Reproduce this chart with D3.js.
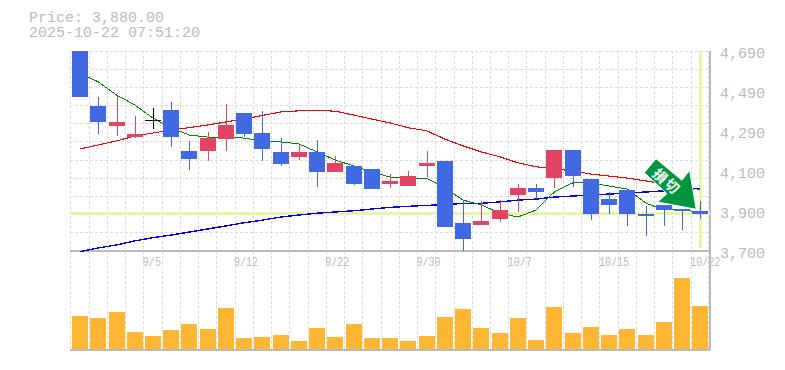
<!DOCTYPE html>
<html>
<head>
<meta charset="utf-8">
<script src="https://cdn.jsdelivr.net/npm/d3@7/dist/d3.min.js"></script>
<style>
html, body { margin: 0; padding: 0; background: #fff; overflow: hidden; }
text { font-family: "Liberation Mono", monospace; fill: #bbb; }
</style>
</head>
<body>
<div id="viz"></div>
<script>
const dates = ["9/1","9/2","9/3","9/4","9/5","9/8","9/9","9/10","9/11","9/12","9/16","9/17","9/18","9/19","9/22","9/24","9/25","9/26","9/29","9/30","10/1","10/2","10/3","10/6","10/7","10/8","10/9","10/10","10/14","10/15","10/16","10/17","10/20","10/21","10/22"]
const opens = [4690,4418,4319,4264,4348,4398,4195,4195,4254,4383,4284,4190,4165,4190,4091,4121,4106,4032,4022,4121,4146,3839,3829,3858,3977,4012,4061,4200,4056,3957,4002,3883,3928,3908,3898]
const highs = [4690,4462,4467,4368,4408,4438,4245,4289,4428,4383,4393,4259,4225,4249,4170,4121,4106,4081,4096,4195,4146,3952,3948,3952,4032,4032,4200,4200,4056,3992,4007,3923,3928,3908,3948]
const lows = [4464,4279,4269,4259,4304,4215,4101,4146,4195,4264,4146,4121,4150,4017,4091,4027,4007,4012,4022,4066,3819,3700,3829,3844,3893,3957,4012,4017,3853,3883,3824,3774,3824,3804,3858]
const closes = [4464,4339,4339,4279,4348,4264,4155,4259,4324,4279,4205,4131,4190,4091,4136,4032,4007,4047,4071,4136,3819,3759,3849,3903,4012,3992,4200,4071,3883,3928,3883,3873,3903,3898,3883]
const volumes = [33,31,37,17,13,19,25,20,41,11,12,14,8,21,12,25,11,11,8,13,32,40,21,16,31,9,42,16,22,14,20,14,27,71,43]
const maShort = [4581,4537,4472,4423,4358,4309,4274,4264,4264,4259,4245,4240,4230,4190,4150,4121,4091,4066,4061,4061,4012,3952,3928,3888,3868,3903,3992,4037,4037,4022,4007,3938,3903,3903,3893]
const maMid = [4205,4225,4245,4269,4284,4299,4311,4324,4339,4353,4371,4388,4394,4396,4392,4373,4353,4334,4310,4295,4254,4220,4190,4167,4137,4117,4106,4097,4081,4071,4061,4047,4032,4022,4004]
const maLong = [3697,3715,3730,3750,3766,3779,3794,3809,3824,3840,3853,3868,3878,3887,3893,3899,3908,3916,3921,3926,3929,3936,3936,3943,3952,3957,3967,3972,3977,3982,3986,3992,3998,4004,4010]
const priceTicks = [3700,3898,4096,4294,4492,4690]
const gridPrices = [3700,3790,3880,3970,4060,4150,4240,4330,4420,4510,4600,4690]
const dateTicks = ["9/5","9/12","9/22","9/30","10/7","10/15","10/22"]
const lastPrice = 3880
const priceText = "Price: 3,880.00"
const timeText = "2025-10-22 07:51:20"

const svgWidth = 785, svgHeight = 370
const left = 70.9, right = 709.4, priceTop = 51, priceBottom = 251, volBottom = 348.5

const svg = d3.select("#viz").append("svg")
    .attr("width", svgWidth)
    .attr("height", svgHeight)
    .style("display", "block")

const x = d3.scaleBand().domain(dates).range([left, right]).padding(0)
const y = d3.scaleLinear().domain([3700, 4690]).range([priceBottom, priceTop])
const yVol = d3.scaleLinear().domain([0, 100]).range([volBottom, volBottom - 100])
const mid = d => x(d) + x.bandwidth() / 2

const gridColor = "#ddd"
const axisColor = "#bbb"
const upColor = "#e24466"
const downColor = "#4169e1"
const lastColor = "#e6f5a8"

// dashed grid
const grid = svg.append("g").attr("shape-rendering", "crispEdges")
grid.selectAll(".h").data(gridPrices).enter().append("line")
    .attr("x1", 70).attr("x2", 710)
    .attr("y1", d => y(d)).attr("y2", d => y(d))
    .attr("stroke", gridColor).attr("stroke-dasharray", "3,2")
grid.selectAll(".v").data(dates).enter().append("line")
    .attr("x1", d => x(d)).attr("x2", d => x(d))
    .attr("y1", priceTop).attr("y2", 350)
    .attr("stroke", gridColor).attr("stroke-dasharray", "3,2")
grid.append("line")
    .attr("x1", right - 1).attr("x2", right - 1)
    .attr("y1", priceTop).attr("y2", 350)
    .attr("stroke", gridColor).attr("stroke-dasharray", "3,2")

// frame
const frame = svg.append("g").attr("shape-rendering", "crispEdges")
    .attr("stroke", axisColor).attr("stroke-width", 1.5)
frame.append("line").attr("x1", 70).attr("x2", 710).attr("y1", priceBottom).attr("y2", priceBottom)
frame.append("line").attr("x1", 70).attr("x2", 710).attr("y1", 350).attr("y2", 350)
frame.append("line").attr("x1", 710).attr("x2", 710).attr("y1", priceTop).attr("y2", 350)

// last price and last day highlight
svg.append("rect")
    .attr("x", 70).attr("width", 640)
    .attr("y", y(lastPrice) - 2.6).attr("height", 3)
    .attr("fill", lastColor).attr("shape-rendering", "crispEdges")
svg.append("rect")
    .attr("x", mid("10/22") - 1).attr("width", 3)
    .attr("y", priceTop).attr("height", 197)
    .attr("fill", lastColor).attr("shape-rendering", "crispEdges")

// moving averages
const maLine = d3.line().x((d, i) => mid(dates[i])).y(d => y(d))
const maSeries = [[maMid, "#f00", 1.1], [maLong, "#00f", 1.4], [maShort, "#080", 1]]
svg.selectAll(".ma").data(maSeries).enter().append("path")
    .attr("d", d => maLine(d[0]))
    .attr("fill", "none")
    .attr("stroke", d => d[1])
    .attr("stroke-width", d => d[2])
    .attr("shape-rendering", "crispEdges")

// candles
const candles = svg.append("g").attr("shape-rendering", "crispEdges")
const candleColor = i => closes[i] > opens[i] ? upColor : closes[i] < opens[i] ? downColor : "#000"
dates.forEach((d, i) => {
    candles.append("line")
        .attr("x1", Math.round(mid(d))).attr("x2", Math.round(mid(d)))
        .attr("y1", y(highs[i])).attr("y2", y(lows[i]))
        .attr("stroke", candleColor(i))
    if (opens[i] == closes[i]) {
        candles.append("line")
            .attr("x1", mid(d) - 8).attr("x2", mid(d) + 8)
            .attr("y1", y(opens[i])).attr("y2", y(opens[i]))
            .attr("stroke", candleColor(i))
    } else {
        const top = y(Math.max(opens[i], closes[i]))
        const bottom = y(Math.min(opens[i], closes[i]))
        candles.append("rect")
            .attr("x", mid(d) - 8).attr("width", 16)
            .attr("y", top).attr("height", bottom - top)
            .attr("fill", candleColor(i))
    }
})

// volume
svg.append("g").attr("shape-rendering", "crispEdges")
    .selectAll("rect").data(volumes).enter().append("rect")
    .attr("x", (d, i) => mid(dates[i]) - 8)
    .attr("width", 16)
    .attr("y", d => yVol(d))
    .attr("height", d => yVol(0) - yVol(d))
    .attr("fill", "#ffb733")

// axes
const yAxis = svg.append("g")
    .attr("transform", "translate(710,0)")
    .call(d3.axisRight(y).tickValues(priceTicks).tickSize(0).tickPadding(10)
        .tickFormat(d => d3.format(",")(Math.round(d / 10) * 10)))
yAxis.select(".domain").remove()
yAxis.selectAll("text").attr("dy", "0.32em").attr("y", 2)
    .style("font-size", "15px").style("fill", "#bbb").style("font-family", '"Liberation Mono", monospace')

// date labels are narrow and tall in the original, so squeeze them sideways
const xAxis = svg.append("g")
    .attr("transform", `translate(0,${priceBottom})`)
    .call(d3.axisBottom(x).tickValues(dateTicks).tickSize(0).tickPadding(0))
xAxis.select(".domain").remove()
xAxis.selectAll("text")
    .attr("text-anchor", "start")
    .attr("transform", `translate(${-x.bandwidth() / 2 - 1},0) scale(0.77,1)`)
    .attr("x", 0)
    .attr("y", 6)
    .style("font-size", "13px").style("fill", "#bbb").style("font-family", '"Liberation Mono", monospace')

// header
svg.append("text").attr("x", 29).attr("y", 22).style("font-size", "15px").text(priceText)
svg.append("text").attr("x", 29).attr("y", 37).style("font-size", "15px").text(timeText)

// stop loss arrow, anchored on the last candle
const arrow = svg.append("g")
    .attr("transform", `translate(${mid("10/22")},${y(opens[34]) + 3})`)
arrow.append("path")
    .attr("d", "M-44.3,-55.3 L-18.3,-33.7 L-10.7,-43.7 L-4,-4.7 L-42.7,-12 L-33.3,-20.3 L-56,-41.3 Z")
    .attr("fill", "#00963f")
    .attr("stroke", "#fff")
    .attr("stroke-width", 1)
arrow.selectAll("text").data(["損", "切"]).enter().append("text")
    .attr("transform", (d, i) => `translate(${-40 + i * 12},${-38 + i * 10}) rotate(45)`)
    .attr("text-anchor", "middle")
    .attr("dy", "0.38em")
    .style("font-family", '"Noto Sans CJK JP"')
    .style("font-weight", "700")
    .style("font-size", "14px")
    .style("fill", "#fff")
    .text(d => d)
</script>
</body>
</html>
